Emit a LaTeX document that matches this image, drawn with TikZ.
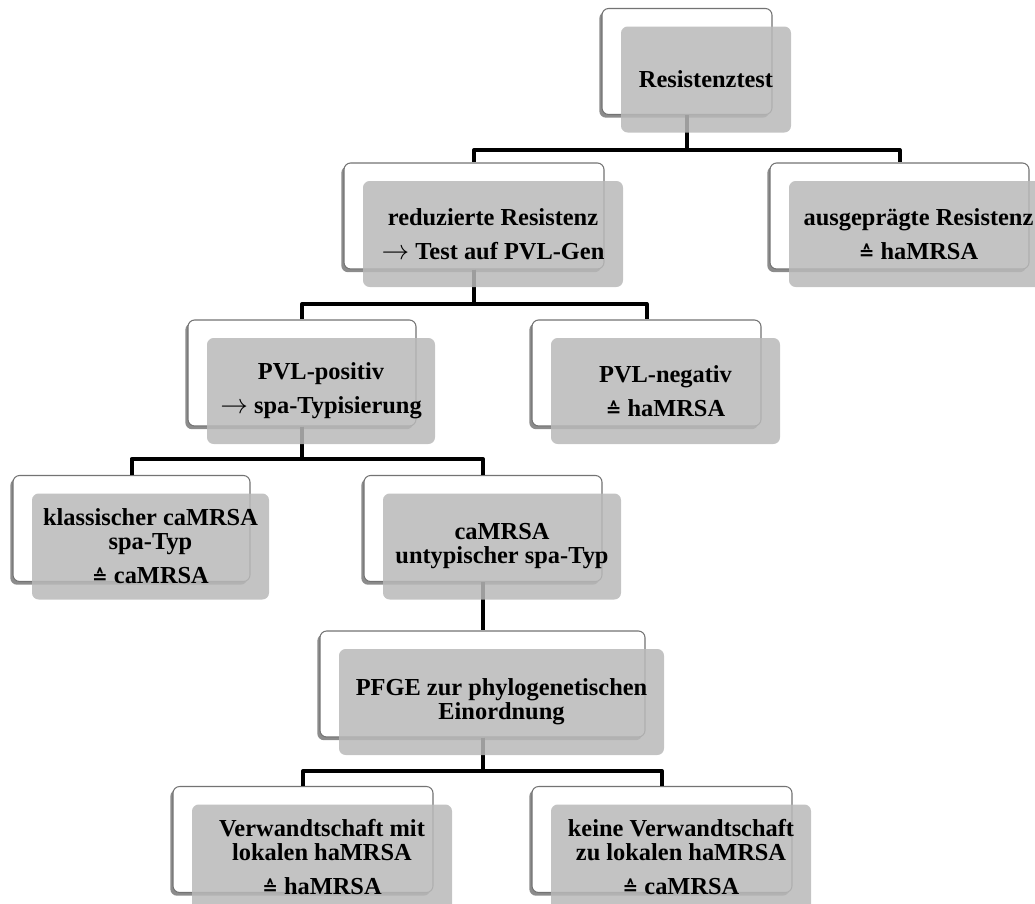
\documentclass[tikz,border=0pt]{standalone}
\usepackage{fontspec}
\setmainfont{Liberation Serif}
\newfontfamily\symfont{DejaVu Sans}
\usetikzlibrary{shadows}
\definecolor{boxedge}{RGB}{115,115,115}
\definecolor{boxfill}{RGB}{185,185,185}
% "corresponds to" sign and the step arrow
\newcommand\eqhat{{\symfont\bfseries\fontsize{14}{14}\selectfont ≙}}
\newcommand\steparrow{{\fontsize{22}{18}\selectfont\smash{$\rightarrow$}}}
\begin{document}
\begin{tikzpicture}[x=0.75pt,y=-0.75pt,
  back/.style={draw=boxedge, line width=0.8pt, fill=white, rounded corners=5pt,
    minimum height=79.5pt, inner sep=0pt,
    drop shadow={shadow xshift=-2pt, shadow yshift=-2.4pt, opacity=0.6, fill=black!75}},
  front/.style={fill=boxfill, fill opacity=0.85, text opacity=1, rounded corners=5pt,
    minimum height=79.5pt, inner sep=0pt, align=center,
    font=\bfseries\fontsize{18.3}{18}\selectfont},
  conn/.style={line width=3pt, line join=round}]
\useasboundingbox (0,0) rectangle (1035,903);

% white back panels
\node[back, minimum width=127.5pt]  (topW) at (687,61.5) {};
\node[back, minimum width=195pt]    (redW) at (474,216) {};
\node[back, minimum width=194.25pt] (ausW) at (899.5,216) {};
\node[back, minimum width=171pt]    (posW) at (302,373) {};
\node[back, minimum width=171.75pt] (negW) at (646.5,373) {};
\node[back, minimum width=177.75pt] (klaW) at (131.5,528.5) {};
\node[back, minimum width=178.5pt]  (camW) at (483,528.5) {};
\node[back, minimum width=243.75pt] (pfgW) at (482.5,684) {};
\node[back, minimum width=195pt]    (verW) at (303,839.5) {};
\node[back, minimum width=195pt]    (keiW) at (662,839.5) {};

% tree connectors
\draw[conn] (topW.south) -- (topW.south |- 0,150) -| (redW.north);
\draw[conn] (topW.south |- 0,150) -| (ausW.north);
\draw[conn] (redW.south) -- (redW.south |- 0,304) -| (posW.north);
\draw[conn] (redW.south |- 0,304) -| (negW.north);
\draw[conn] (posW.south) -- (posW.south |- 0,459) -| (klaW.north);
\draw[conn] (posW.south |- 0,459) -| (camW.north);
\draw[conn] (camW.south) -- (camW.south |- pfgW.north);
\draw[conn] (pfgW.south) -- (pfgW.south |- 0,771) -| (verW.north);
\draw[conn] (pfgW.south |- 0,771) -| (keiW.north);

% grey front panels with the labels
\node[front, minimum width=127.5pt]  (top) at ([shift={(19,18)}]topW.center) {Resistenztest};
\node[front, minimum width=195pt]    (red) at ([shift={(19,18)}]redW.center) {reduzierte Resistenz\\[7.5pt]\steparrow{} Test auf PVL-Gen};
\node[front, minimum width=194.25pt] (aus) at ([shift={(19,18)}]ausW.center) {ausgeprägte Resistenz\\[7.5pt]\eqhat{} haMRSA};
\node[front, minimum width=171pt]    (pos) at ([shift={(19,18)}]posW.center) {PVL-positiv\\[7.5pt]\steparrow{} spa-Typisierung};
\node[front, minimum width=171.75pt] (neg) at ([shift={(19,18)}]negW.center) {PVL-negativ\\[7.5pt]\eqhat{} haMRSA};
\node[front, minimum width=177.75pt] (kla) at ([shift={(19,18)}]klaW.center) {klassischer caMRSA\\spa-Typ\\[7.5pt]\eqhat{} caMRSA};
\node[front, minimum width=178.5pt]  (cam) at ([shift={(19,18)}]camW.center) {caMRSA\\untypischer spa-Typ};
\node[front, minimum width=243.75pt] (pfg) at ([shift={(19,18)}]pfgW.center) {PFGE zur phylogenetischen\\Einordnung};
\node[front, minimum width=195pt]    (ver) at ([shift={(19,18)}]verW.center) {Verwandtschaft mit\\lokalen haMRSA\\[7.5pt]\eqhat{} haMRSA};
\node[front, minimum width=195pt]    (kei) at ([shift={(19,18)}]keiW.center) {keine Verwandtschaft\\zu lokalen haMRSA\\[7.5pt]\eqhat{} caMRSA};
\end{tikzpicture}
\end{document}
